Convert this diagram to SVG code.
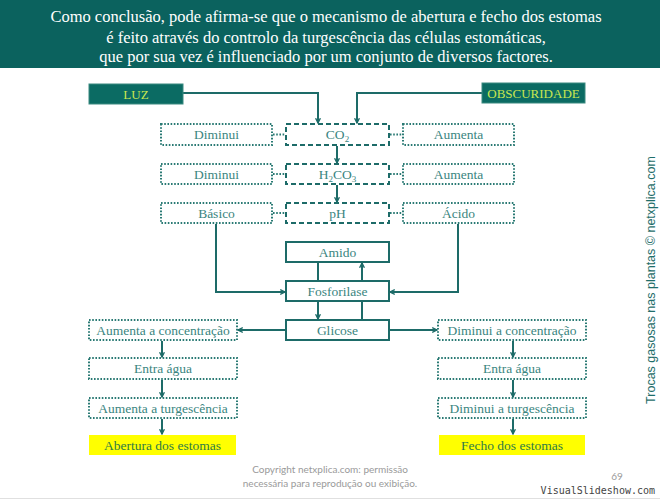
<svg xmlns="http://www.w3.org/2000/svg" width="660" height="500" viewBox="0 0 660 500">
<defs>
<marker id="ah" viewBox="0 0 10 10" refX="9" refY="5" markerWidth="6" markerHeight="6" orient="auto" markerUnits="userSpaceOnUse">
<path d="M1,1 L9,5 L1,9" fill="none" stroke="#1d6b68" stroke-width="2.2"/>
</marker>
</defs>
<style>
.t{font-family:"Liberation Serif","Times New Roman",serif;font-size:13.5px;fill:#3a8580;text-anchor:middle}
.hd{font-family:"Liberation Serif","Times New Roman",serif;font-size:16.5px;fill:#ffffff;text-anchor:middle}
.dot{fill:#fff;stroke:#2a7a74;stroke-width:2;stroke-dasharray:1.6 1.6}
.dash{fill:#fff;stroke:#1d6b68;stroke-width:2;stroke-dasharray:5 3}
.sol{fill:#fff;stroke:#1d6b68;stroke-width:2}
.dk{fill:#0b6b63;stroke:#3a8a80;stroke-width:1}
.dkt{font-family:"Liberation Serif","Times New Roman",serif;font-size:13px;fill:#c8e650;text-anchor:middle}
.yl{fill:#ffff00}
.ylt{font-family:"Liberation Serif","Times New Roman",serif;font-size:13.5px;fill:#2f7a48;text-anchor:middle}
.c{fill:none;stroke:#1d6b68;stroke-width:2}
.cd{fill:none;stroke:#2a7a74;stroke-width:2;stroke-dasharray:1.6 1.6}
</style>
<rect width="660" height="500" fill="#ffffff"/>
<rect x="0" y="0" width="660" height="68" fill="#0b625e"/>
<text class="hd" x="326" y="22">Como conclusão, pode afirma-se que o mecanismo de abertura e fecho dos estomas</text>
<text class="hd" x="326" y="43">é feito através do controlo da turgescência das células estomáticas,</text>
<text class="hd" x="326" y="62">que por sua vez é influenciado por um conjunto de diversos factores.</text>

<g id="connectors">
<polyline class="c" points="183,93 318,93 318,123" marker-end="url(#ah)"/>
<polyline class="c" points="482,93 357,93 357,123" marker-end="url(#ah)"/>
<line class="c" x1="337" y1="146" x2="337" y2="163" marker-end="url(#ah)"/>
<line class="c" x1="337" y1="185" x2="337" y2="202" marker-end="url(#ah)"/>
<line class="cd" x1="273" y1="134.5" x2="285" y2="134.5"/>
<line class="cd" x1="390" y1="134.5" x2="402" y2="134.5"/>
<line class="cd" x1="273" y1="174" x2="285" y2="174"/>
<line class="cd" x1="390" y1="174" x2="402" y2="174"/>
<line class="cd" x1="273" y1="213" x2="285" y2="213"/>
<line class="cd" x1="390" y1="213" x2="402" y2="213"/>
<polyline class="c" points="216,224 216,292 285,292" marker-end="url(#ah)"/>
<polyline class="c" points="458,224 458,292 390,292" marker-end="url(#ah)"/>
<line class="c" x1="318" y1="263" x2="318" y2="281"/>
<line class="c" x1="362" y1="281" x2="362" y2="263" marker-end="url(#ah)"/>
<line class="c" x1="318" y1="302" x2="318" y2="319" marker-end="url(#ah)"/>
<line class="c" x1="362" y1="320" x2="362" y2="302"/>
<line class="c" x1="286" y1="330" x2="238" y2="330" marker-end="url(#ah)"/>
<line class="c" x1="389" y1="330" x2="437" y2="330" marker-end="url(#ah)"/>
<line class="c" x1="162" y1="341" x2="162" y2="357" marker-end="url(#ah)"/>
<line class="c" x1="162" y1="380" x2="162" y2="397" marker-end="url(#ah)"/>
<line class="c" x1="162" y1="419" x2="162" y2="434" marker-end="url(#ah)"/>
<line class="c" x1="513" y1="341" x2="513" y2="357" marker-end="url(#ah)"/>
<line class="c" x1="513" y1="380" x2="513" y2="397" marker-end="url(#ah)"/>
<line class="c" x1="513" y1="419" x2="513" y2="434" marker-end="url(#ah)"/>
</g>

<g id="luz"><rect class="dk" x="89" y="84" width="94" height="20"/><text class="dkt" x="136" y="98.5">LUZ</text></g>
<g id="obscuridade"><rect class="dk" x="482" y="83" width="103" height="20"/><text class="dkt" x="533.5" y="97.5">OBSCURIDADE</text></g>

<g id="co2"><rect class="dash" x="286" y="124" width="103" height="21"/><text class="t" x="337.5" y="139">CO<tspan font-size="9" dy="3">2</tspan></text></g>
<g id="h2co3"><rect class="dash" x="286" y="164" width="103" height="20"/><text class="t" x="337.5" y="178.5">H<tspan font-size="9" dy="3">2</tspan><tspan dy="-3">CO</tspan><tspan font-size="9" dy="3">3</tspan></text></g>
<g id="ph"><rect class="dash" x="286" y="203" width="103" height="20"/><text class="t" x="337.5" y="217.5">pH</text></g>

<g id="diminui1"><rect class="dot" x="161" y="124" width="111" height="21"/><text class="t" x="216.5" y="139">Diminui</text></g>
<g id="diminui2"><rect class="dot" x="161" y="164" width="111" height="20"/><text class="t" x="216.5" y="178.5">Diminui</text></g>
<g id="basico"><rect class="dot" x="161" y="203" width="111" height="20"/><text class="t" x="216.5" y="217.5">Básico</text></g>
<g id="aumenta1"><rect class="dot" x="403" y="124" width="111" height="21"/><text class="t" x="458.5" y="139">Aumenta</text></g>
<g id="aumenta2"><rect class="dot" x="403" y="164" width="111" height="20"/><text class="t" x="458.5" y="178.5">Aumenta</text></g>
<g id="acido"><rect class="dot" x="403" y="203" width="111" height="20"/><text class="t" x="458.5" y="217.5">Ácido</text></g>

<g id="amido"><rect class="sol" x="286" y="242" width="103" height="20"/><text class="t" x="337.5" y="256.5">Amido</text></g>
<g id="fosforilase"><rect class="sol" x="286" y="281" width="103" height="20"/><text class="t" x="337.5" y="295.5">Fosforilase</text></g>
<g id="glicose"><rect class="sol" x="286" y="320" width="103" height="20"/><text class="t" x="337.5" y="334.5">Glicose</text></g>

<g id="aumenta-conc"><rect class="dot" x="89" y="320" width="148" height="20"/><text class="t" x="163" y="334.5">Aumenta a concentração</text></g>
<g id="entra-agua-l"><rect class="dot" x="89" y="358" width="148" height="21"/><text class="t" x="163" y="373">Entra água</text></g>
<g id="aumenta-turg"><rect class="dot" x="89" y="398" width="148" height="20"/><text class="t" x="163" y="412.5">Aumenta a turgescência</text></g>
<g id="abertura"><rect class="yl" x="89" y="435" width="147" height="20"/><text class="ylt" x="162.5" y="449.5">Abertura dos estomas</text></g>

<g id="diminui-conc"><rect class="dot" x="438" y="320" width="148" height="20"/><text class="t" x="512" y="334.5">Diminui a concentração</text></g>
<g id="entra-agua-r"><rect class="dot" x="438" y="358" width="148" height="21"/><text class="t" x="512" y="373">Entra água</text></g>
<g id="diminui-turg"><rect class="dot" x="438" y="398" width="148" height="20"/><text class="t" x="512" y="412.5">Diminui a turgescência</text></g>
<g id="fecho"><rect class="yl" x="439" y="435" width="146" height="20"/><text class="ylt" x="512" y="449.5">Fecho dos estomas</text></g>

<text x="330" y="473" font-family="Lato,'Open Sans',sans-serif" font-size="10" fill="#9a9a9a" text-anchor="middle">Copyright netxplica.com: permissão</text>
<text x="330" y="487" font-family="Lato,'Open Sans',sans-serif" font-size="10" fill="#9a9a9a" text-anchor="middle">necessária para reprodução ou exibição.</text>
<text x="617" y="480" font-family="Lato,'Open Sans',sans-serif" font-size="10" fill="#9a9a9a" text-anchor="middle">69</text>
<text x="655" y="494" font-family="'DejaVu Sans Mono',monospace" font-size="10" fill="#444" text-anchor="end">VisualSlideshow.com</text>
<line x1="0" y1="498.5" x2="660" y2="498.5" stroke="#e0e0e0" stroke-width="1"/>
<text transform="translate(655,280) rotate(-90)" font-family="'Liberation Sans',Arial,sans-serif" font-size="12.5" fill="#1f6e6a" text-anchor="middle">Trocas gasosas nas plantas © netxplica.com</text>
</svg>
